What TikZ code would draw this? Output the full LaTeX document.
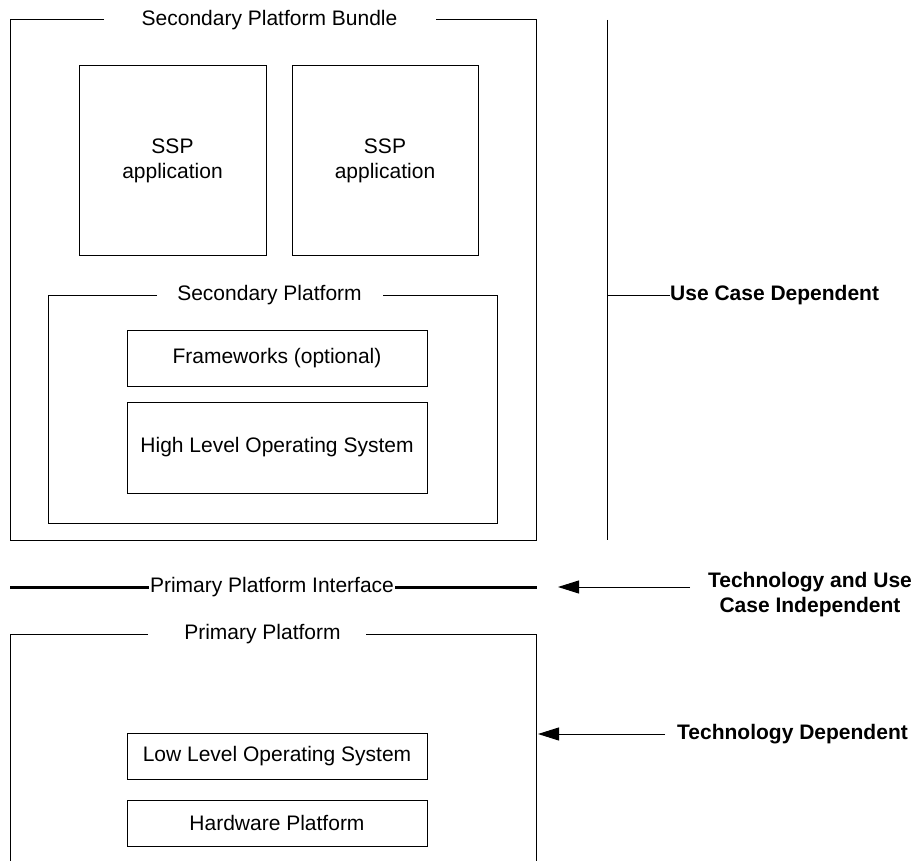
\documentclass[tikz,border=0pt]{standalone}
\usepackage{fontspec}
\setmainfont{Liberation Sans}
\usetikzlibrary{arrows.meta}
\begin{document}
\begin{tikzpicture}[x=1pt,y=-1pt,
  ln/.style={line width=1pt, draw=black},
  thick line/.style={line width=3pt, draw=black},
  box/.style={draw=black, line width=1pt, inner sep=0pt, outer sep=0pt, align=center,
    font=\fontsize{21}{25}\selectfont},
  lbl/.style={inner sep=0pt, align=center, font=\fontsize{21}{25}\selectfont},
  blbl/.style={inner sep=0pt, align=center, font=\fontsize{21}{25}\selectfont\bfseries},
  arr/.style={-{Triangle[length=21pt,width=13pt]}, line width=1pt}]
\useasboundingbox (0,0) rectangle (916,861);

% Secondary Platform Bundle frame
\node[lbl] (tbundle) at (269.5,20) {Secondary Platform Bundle};
\draw[ln] (104,20) -- (10,20) -- (10,540) -- (536,540) -- (536,20) -- (436,20);

% SSP applications
\node[box, minimum width=187pt, minimum height=190pt] (ssp1) at (172.5,161) {SSP\\application};
\node[box, minimum width=186pt, minimum height=190pt] (ssp2) at (385,161) {SSP\\application};

% Secondary Platform frame
\node[lbl] (tsec) at (269.5,295) {Secondary Platform};
\draw[ln] (157,295) -- (48,295) -- (48,523) -- (497,523) -- (497,295) -- (383,295);

\node[box, minimum width=300pt, minimum height=56pt] (fw) at (277,358) {Frameworks (optional)};
\node[box, minimum width=300pt, minimum height=91pt] (hlos) at (277,447.5) {High Level Operating System};

% Use case dependent bracket
\coordinate (vt) at (607,20);
\coordinate (vb) at (607,540);
\coordinate (vm) at (607,295);
\draw[ln] (vt) -- (vb);
\node[blbl, anchor=west] (ucd) at (670,295) {Use Case Dependent};
\draw[ln] (vm) -- (ucd.west);

% Primary Platform Interface
\node[lbl, inner xsep=1pt] (ppi) at (272,587) {Primary Platform Interface};
\coordinate (ppil) at (10,587);
\coordinate (ppir) at (537,587);
\draw[thick line] (ppil) -- (ppi.west);
\draw[thick line] (ppi.east) -- (ppir);

\node[blbl] (taui) at (810,594.5) {Technology and Use\\Case Independent};
\coordinate (a1s) at (690,587);
\coordinate (a1e) at (558,587);
\draw[arr] (a1s) -- (a1e);

% Primary Platform frame
\node[lbl] (tprim) at (262.5,634) {Primary Platform};
\draw[ln] (148,634) -- (10,634) -- (10,861);
\draw[ln] (366,634) -- (536,634) -- (536,861);

\node[box, minimum width=300pt, minimum height=46pt] (llos) at (277,756) {Low Level Operating System};
\node[box, minimum width=300pt, minimum height=46pt] (hw) at (277,823) {Hardware Platform};

\node[blbl, anchor=west] (td) at (677,734) {Technology Dependent};
\coordinate (a2e) at (538,734);
\draw[arr] ([xshift=-12pt]td.west) -- (a2e);
\end{tikzpicture}
\end{document}
